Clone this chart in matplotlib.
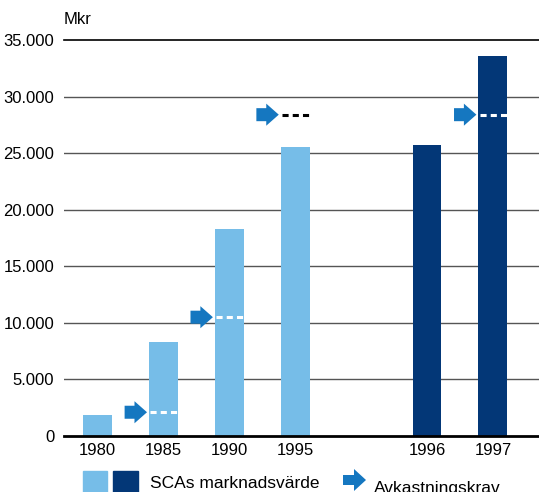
import matplotlib
matplotlib.use("Agg")
import matplotlib.pyplot as plt
from matplotlib.patches import FancyArrow, Rectangle, Polygon

plt.rcParams['font.family'] = ['Liberation Sans', 'DejaVu Sans']

years = ['1980', '1985', '1990', '1995', '1996', '1997']
positions = [0, 1, 2, 3, 5, 6]
values = [1850, 8300, 18300, 25500, 25700, 33600]
bar_colors = ['#76bde8', '#76bde8', '#76bde8', '#76bde8', '#033777', '#033777']
req_years = ['1985', '1990', '1995', '1997']
req_values = [2100, 10500, 28400, 28400]
yticks = [0, 5000, 10000, 15000, 20000, 25000, 30000, 35000]
ytick_labels = ['0', '5.000', '10.000', '15.000', '20.000', '25.000', '30.000', '35.000']

fig = plt.figure(figsize=(5.39, 4.92), dpi=100)
ax = fig.add_axes([64/539, 56/492, 475/539, 396/492])
ax.set_xlim(-0.51, 6.7)
ax.set_ylim(0, 35000)

for t in yticks[1:-1]:
    ax.axhline(t, color='#555555', lw=1.0, zorder=1)
ax.axhline(35000, color='black', lw=1.2, zorder=1, clip_on=False)

bw = 0.44
ax.bar(positions, values, width=bw, color=bar_colors, zorder=2)
ax.axhline(0, color='black', lw=2.0, zorder=3, clip_on=False)

arrow_col = '#1577c0'
for y, v in zip(req_years, req_values):
    x = positions[years.index(y)]
    bar_v = values[years.index(y)]
    dcol = 'white' if bar_v > v else 'black'
    ax.plot([x - bw/2 + 0.02, x + bw/2], [v, v], color=dcol, lw=2.2,
            dashes=(2.0, 1.35), zorder=4, solid_capstyle='butt', dash_capstyle='butt')
    a = FancyArrow(x - 0.59, v, 0.34, 0, width=1150, head_width=1950,
                   head_length=0.19, length_includes_head=True,
                   color=arrow_col, lw=0, zorder=5)
    ax.add_patch(a)

ax.set_yticks(yticks)
ax.set_yticklabels(ytick_labels, fontsize=12)
ax.set_xticks(positions)
ax.set_xticklabels(years, fontsize=12)
ax.tick_params(length=0, pad=5)
ax.tick_params(axis='y', pad=7)
for s in ax.spines.values():
    s.set_visible(False)

fig.text(64/539, 1 - 20/492, 'Mkr', fontsize=12, va='center', ha='left')

# legend
fig.patches.append(Rectangle((83/539, 0), 24/539, 21/492, transform=fig.transFigure,
                             color='#76bde8', figure=fig))
fig.patches.append(Rectangle((113/539, 0), 25/539, 21/492, transform=fig.transFigure,
                             color='#033777', figure=fig))
fig.text(150/539, 1 - 483/492, 'SCAs marknadsvärde', fontsize=12.5, va='center', ha='left')
W, H = 539, 492
ax_pts = [(343, 475), (354, 475), (354, 469), (366, 480), (354, 491), (354, 485), (343, 485)]
fig.patches.append(Polygon([(px/W, 1 - py/H) for px, py in ax_pts], closed=True,
                           transform=fig.transFigure, color=arrow_col, lw=0, figure=fig))
fig.text(374/539, 1 - 488/492, 'Avkastningskrav', fontsize=12.5, va='center', ha='left')

fig.savefig('out.png', dpi=100)
